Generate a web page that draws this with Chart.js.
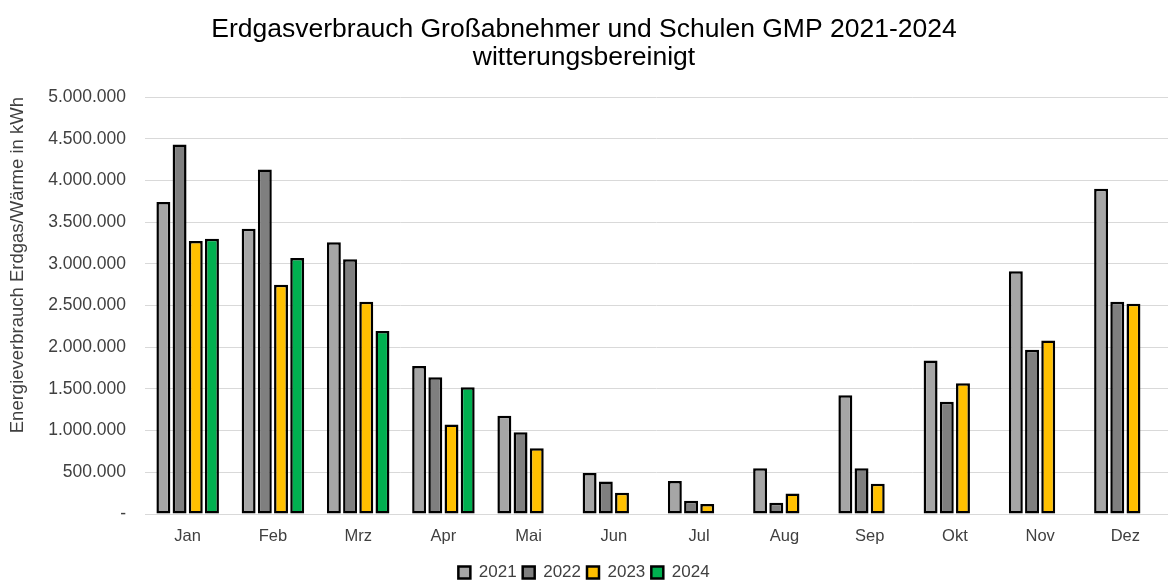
<!DOCTYPE html>
<html>
<head>
<meta charset="utf-8">
<script src="https://cdn.jsdelivr.net/npm/chart.js@4.4.1/dist/chart.umd.min.js"></script>
<style>
  html, body { margin: 0; padding: 0; background: #fff; overflow: hidden; }
  #wrap { width: 1168px; height: 591px; position: relative; }
</style>
</head>
<body>
<div id="wrap"><canvas id="gas"></canvas></div>
<script>
let months = ['Jan','Feb','Mrz','Apr','Mai','Jun','Jul','Aug','Sep','Okt','Nov','Dez'];
let years = ['2021','2022','2023','2024'];

let verbrauch2021 = [3740000,3420000,3260000,1775000,1178000,493000,397000,549000,1424000,1840000,2910000,3900000];
let verbrauch2022 = [4430000,4130000,3055000,1640000,980000,390000,159000,135000,549000,1345000,1970000,2545000];
let verbrauch2023 = [3273000,2748000,2545000,1074000,790000,254000,120000,247000,362000,1568000,2080000,2520000];
let verbrauch2024 = [3300000,3070000,2195000,1520000,null,null,null,null,null,null,null,null];

let farben = ['#a6a6a6','#7f7f7f','#ffc000','#00b050'];

function deNumber(v){
    if (v === 0) return '-';
    return String(v).replace(/\B(?=(\d{3})+(?!\d))/g, '.');
}

const ctx = document.getElementById('gas').getContext('2d');
const gasChart = new Chart(ctx, {
    type: 'bar',
    data: {
        labels: months,
        datasets: [verbrauch2021, verbrauch2022, verbrauch2023, verbrauch2024].map((d, i) => ({
            label: years[i],
            data: d,
            backgroundColor: farben[i],
            borderColor: '#000000',
            borderWidth: 2.5,
            borderSkipped: false,
            categoryPercentage: 0.76,
            barPercentage: 0.86,
        }))
    },
    options: {
        responsive: true,
        maintainAspectRatio: false,
        animation: false,
        layout: { padding: { left: 0, right: 0, top: 0, bottom: 0 } },
        scales: {
            y: {
                min: 0,
                max: 5000000,
                ticks: {
                    stepSize: 500000,
                    padding: 19,
                    color: '#404040',
                    font: { family: 'Liberation Sans', size: 17.5 },
                    callback: v => deNumber(v)
                },
                grid: { color: '#d9d9d9', lineWidth: 1, drawTicks: false },
                border: { display: false },
                title: {
                    display: true,
                    align: 'end',
                    text: 'Energieverbrauch Erdgas/Wärme in kWh',
                    color: '#404040',
                    font: { family: 'Liberation Sans', size: 18.5 },
                    padding: { top: 7, bottom: 0 }
                }
            },
            x: {
                grid: { display: false, drawTicks: false },
                border: { color: '#d9d9d9' },
                ticks: {
                    color: '#404040',
                    padding: 5,
                    font: { family: 'Liberation Sans', size: 16.5, lineHeight: 2.06 }
                }
            }
        },
        plugins: {
            title: {
                display: true,
                text: ['Erdgasverbrauch Großabnehmer und Schulen GMP 2021-2024', 'witterungsbereinigt'],
                color: '#000000',
                font: { family: 'Liberation Sans', size: 26.5, weight: 'normal', lineHeight: 1.057 },
                padding: { top: 16, bottom: 25 }
            },
            legend: {
                position: 'bottom',
                labels: {
                    boxWidth: 12,
                    boxHeight: 12,
                    padding: 6,
                    color: '#404040',
                    font: { family: 'Liberation Sans', size: 17 }
                }
            },
            tooltip: { enabled: false }
        }
    }
});
</script>
</body>
</html>
